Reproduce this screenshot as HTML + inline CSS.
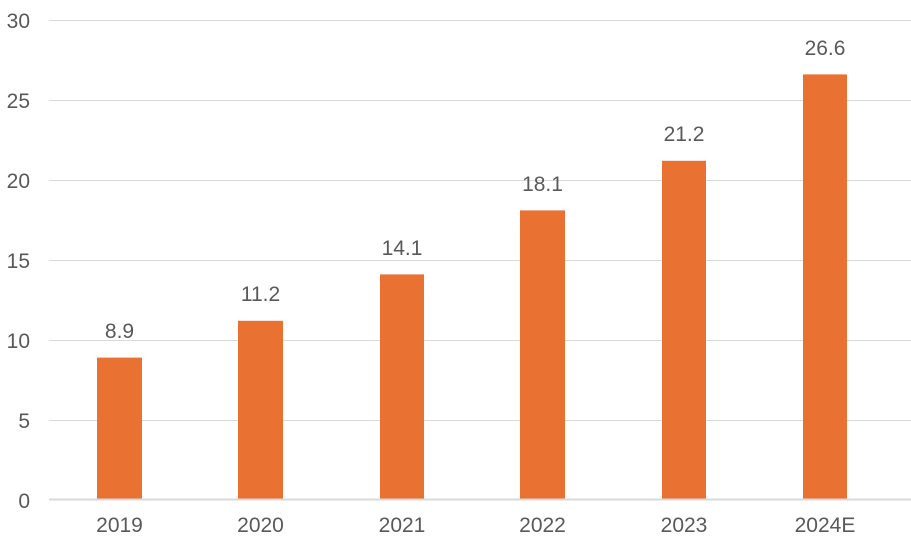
<!DOCTYPE html>
<html><head><style>body{margin:0;background:#fff}</style></head><body>
<svg width="911" height="549" xmlns="http://www.w3.org/2000/svg" font-family="Liberation Sans, sans-serif" fill="#595959">
<g stroke="#d9d9d9" stroke-width="1">
<line x1="49" x2="911" y1="20.5" y2="20.5"/>
<line x1="49" x2="911" y1="100.5" y2="100.5"/>
<line x1="49" x2="911" y1="180.5" y2="180.5"/>
<line x1="49" x2="911" y1="260.5" y2="260.5"/>
<line x1="49" x2="911" y1="340.5" y2="340.5"/>
<line x1="49" x2="911" y1="420.5" y2="420.5"/>
</g>
<g font-size="21" text-anchor="end">
<text x="30" y="28">30</text><text x="30" y="108">25</text><text x="30" y="188">20</text>
<text x="30" y="268">15</text><text x="30" y="348">10</text><text x="30" y="428">5</text><text x="30" y="508">0</text>
</g>
<g fill="#E97132">
<rect x="97" y="357.6" width="45" height="142.4"/>
<rect x="238" y="320.8" width="45" height="179.2"/>
<rect x="380" y="274.4" width="44" height="225.6"/>
<rect x="520" y="210.4" width="45" height="289.6"/>
<rect x="662" y="160.8" width="44" height="339.2"/>
<rect x="803" y="74.4" width="44" height="425.6"/>
</g>
<line x1="49" x2="911" y1="499.5" y2="499.5" stroke="#d9d9d9" stroke-width="2"/>
<g font-size="21" text-anchor="middle">
<text x="119.5" y="338">8.9</text><text x="260.5" y="301">11.2</text><text x="402" y="255">14.1</text>
<text x="542.5" y="191">18.1</text><text x="684" y="141">21.2</text><text x="825" y="55">26.6</text>
<text x="119.5" y="532">2019</text><text x="260.5" y="532">2020</text><text x="402" y="532">2021</text>
<text x="542.5" y="532">2022</text><text x="684" y="532">2023</text><text x="825" y="532">2024E</text>
</g>
</svg>
</body></html>
